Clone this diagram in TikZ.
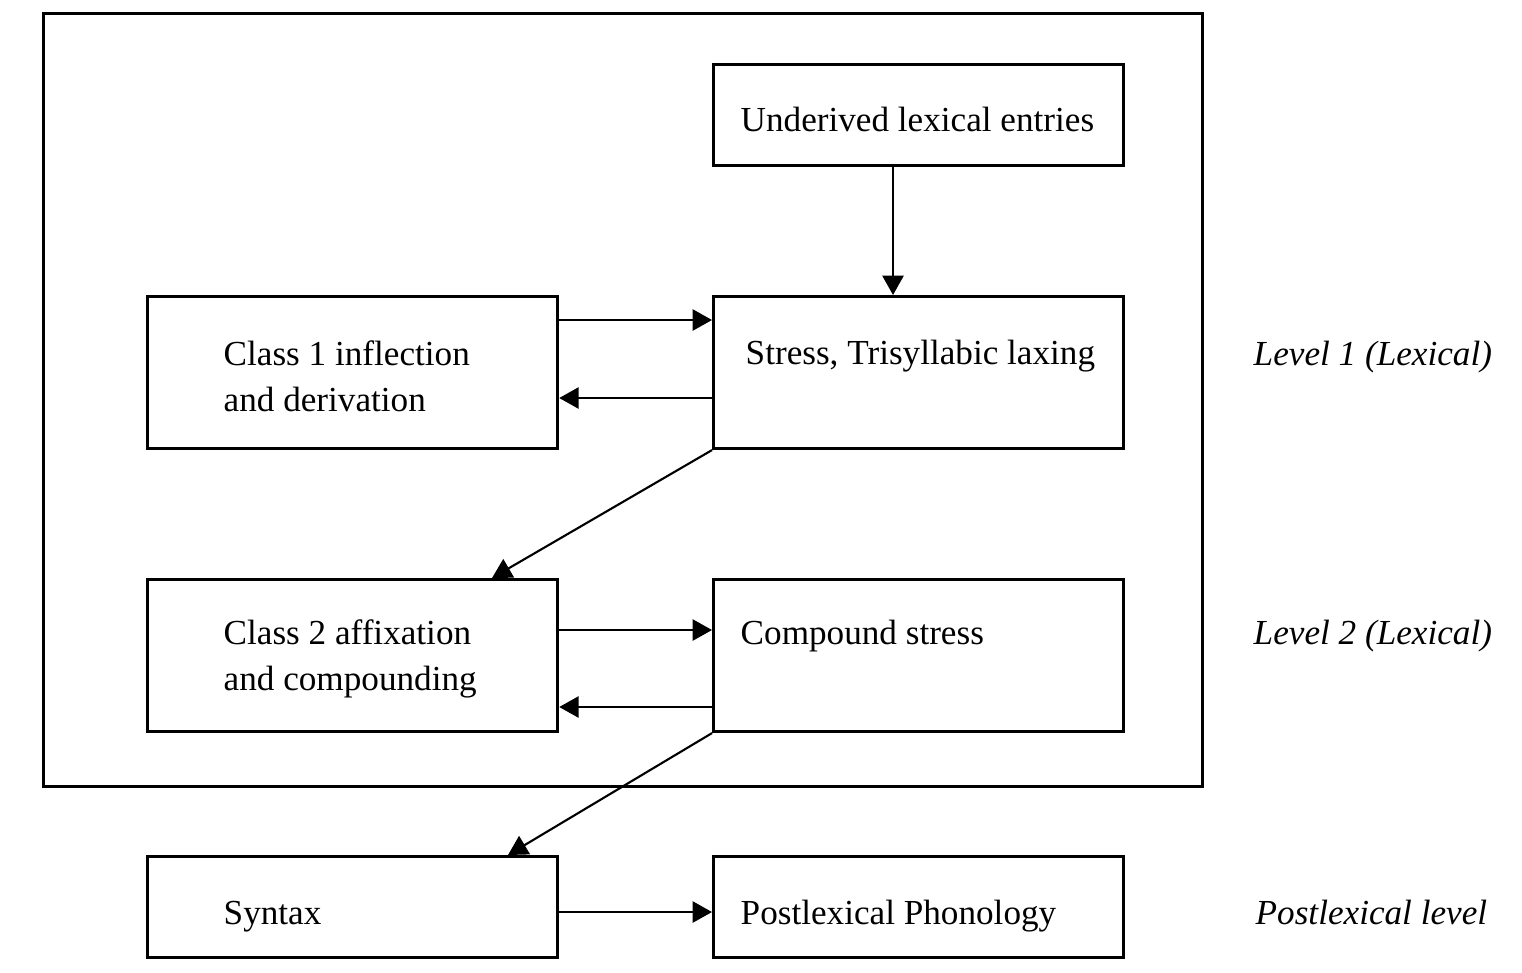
\documentclass[tikz,border=0pt]{standalone}
\usepackage{fontspec}
\setmainfont{Liberation Serif}
\usetikzlibrary{calc}
\usetikzlibrary{arrows.meta}

\begin{document}
\begin{tikzpicture}[x=0.01cm, y=-0.01cm,
    box/.style={draw, line width=0.85pt, anchor=north west, inner sep=0pt, minimum width=4.1cm},
    tall/.style={box, minimum height=1.52cm},
    short/.style={box, minimum height=1.01cm},
    txt/.style={anchor=base west, inner sep=0pt, align=left, font=\fontsize{10}{13}\selectfont},
    lvl/.style={txt, font=\fontsize{10}{13}\selectfont\itshape},
    arr/.style={line width=0.6pt, -{Triangle[length=5.5pt,width=6pt]}}]
    \useasboundingbox (0,0) rectangle (1522,972);
    % lexical levels
    \node [draw, line width=0.85pt, anchor=north west, inner sep=0pt, minimum width=11.58cm, minimum height=7.73cm] (lexbox) at (42,12) {};
    \node [short] (und) at (712,63) {};
    \node [tall] (c1) at (146,295) {};
    \node [tall] (st) at (712,295) {};
    \node [tall] (c2) at (146,578) {};
    \node [tall] (cs) at (712,578) {};
    \node [short] (syn) at (146,855) {};
    \node [short] (post) at (712,855) {};
    \node [txt] (undtxt) at (740,131) {Underived lexical entries};
    \node [txt] (c1txt) at (223,411) {Class 1 inflection\\and derivation};
    \node [txt] (sttxt) at (745,364) {Stress, Trisyllabic laxing};
    \node [txt] (c2txt) at (223,690) {Class 2 affixation\\and compounding};
    \node [txt] (cstxt) at (740,644) {Compound stress};
    \node [txt] (syntxt) at (223,924) {Syntax};
    \node [txt] (posttxt) at (740,924) {Postlexical Phonology};
    \node [lvl] (lvl1) at (1253,365) {Level 1 (Lexical)};
    \node [lvl] (lvl2) at (1253,644) {Level 2 (Lexical)};
    \node [lvl] (lvlp) at (1255,924) {Postlexical level};
    %\draw[arr] (und) -- (st);
    \draw[arr] ($(und.south west)+(181,0)$) -- ($(st.north west)+(181,0)$);
    \draw[arr] ($(c1.north east)+(0,25)$) -- ($(st.north west)+(0,25)$);
    \draw[arr] ($(st.north west)+(0,103)$) -- ($(c1.north east)+(0,103)$);
    \draw[arr] (st.south west) -- ($(c2.north west)+(346,0)$);
    \draw[arr] ($(c2.north east)+(0,52)$) -- ($(cs.north west)+(0,52)$);
    \draw[arr] ($(cs.north west)+(0,129)$) -- ($(c2.north east)+(0,129)$);
    \draw[arr] (cs.south west) -- ($(syn.north west)+(362,0)$);
    \draw[arr] ($(syn.north east)+(0,57)$) -- ($(post.north west)+(0,57)$);
\end{tikzpicture}
\end{document}
